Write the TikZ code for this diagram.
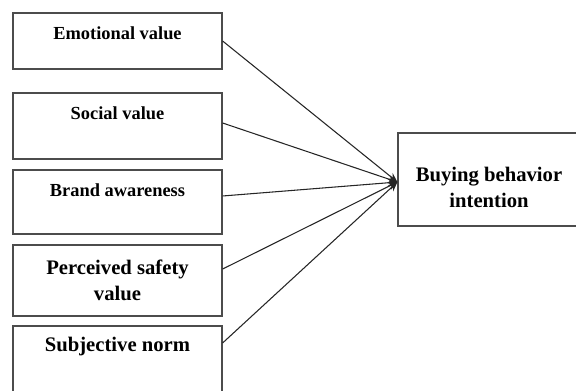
\documentclass[tikz,border=0pt]{standalone}
\usepackage{fontspec}
\setmainfont{Liberation Serif}
\usetikzlibrary{arrows.meta}
\tikzset{
  factor/.style={draw=black!70,line width=0.9pt,minimum width=156.75pt,inner sep=0pt},
  small/.style={font=\bfseries\fontsize{13.8}{16}\selectfont,align=center,inner sep=0pt},
  big/.style={font=\bfseries\fontsize{15.5}{19.5}\selectfont,align=center,inner sep=0pt},
  path/.style={draw=black!85,line width=0.8pt,-{Stealth[length=7pt,width=6pt]}}
}
\begin{document}
\begin{tikzpicture}[x=0.75pt,y=-0.75pt]
\useasboundingbox (0,0) rectangle (576,391);
% factor boxes
\node[factor,minimum height=42pt] (emo) at (117.5,41) {};
\node[factor,minimum height=49.5pt] (soc) at (117.5,126) {};
\node[factor,minimum height=48pt] (brand) at (117.5,202) {};
\node[factor,minimum height=53.25pt] (safe) at (117.5,280.5) {};
\node[factor,minimum height=55.5pt] (norm) at (117.5,363) {};
\node[factor,minimum width=136.5pt,minimum height=69.75pt] (buy) at (489,179.5) {};
% box texts
\node[small] (emoT) at (117.5,33) {Emotional value};
\node[small] (socT) at (117.5,113) {Social value};
\node[small] (brandT) at (117.5,190) {Brand awareness};
\node[big] (safeT) at (117.5,280.5) {Perceived safety\\value};
\node[big] (normT) at (117.5,347) {Subjective norm};
\node[big] (buyT) at (489,187.5) {Buying behavior\\intention};
% paths
\coordinate (tip) at ([yshift=-1.9pt]buy.west);
\draw[path] (emo.east) -- (tip);
\draw[path] ([yshift=2.25pt]soc.east) -- (tip);
\draw[path] ([yshift=4.5pt]brand.east) -- (tip);
\draw[path] ([yshift=8.6pt]safe.east) -- (tip);
\draw[path] ([yshift=15pt]norm.east) -- (tip);
\end{tikzpicture}
\end{document}
